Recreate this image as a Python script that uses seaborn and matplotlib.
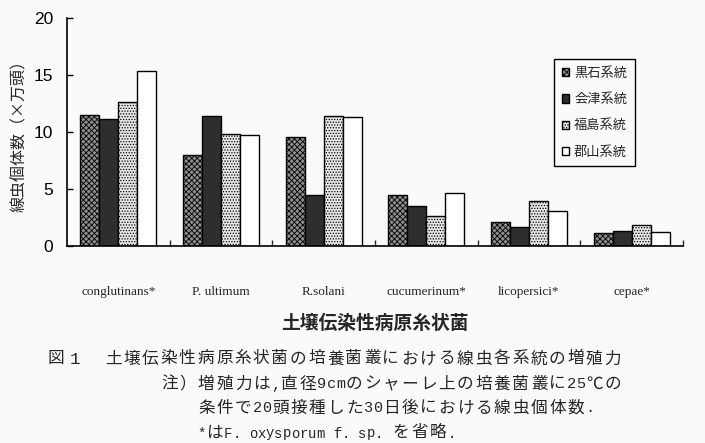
import pandas as pd
import matplotlib
matplotlib.use("Agg")
import matplotlib.pyplot as plt
import seaborn as sns

# ------------------------------------------
# Data
# ------------------------------------------
fungi = ["conglutinans*", "P. ultimum", "R.solani", "cucumerinum*", "licopersici*", "cepae*"]
strains = ["黒石系統", "会津系統", "福島系統", "郡山系統"]

kuroishi = [11.5, 8.0, 9.55, 4.45, 2.1, 1.15]
aizu = [11.1, 11.4, 4.45, 3.55, 1.65, 1.3]
fukushima = [12.6, 9.8, 11.4, 2.6, 3.95, 1.85]
koriyama = [15.35, 9.7, 11.3, 4.65, 3.1, 1.25]

y_ticks = [0, 5, 10, 15, 20]

xlabel = "土壌伝染性病原糸状菌"
ylabel = "線虫個体数（×万頭）"
caption_fig = "図"
caption_no = "1"
caption_1 = "土壌伝染性病原糸状菌の培養菌叢における線虫各系統の増殖力"
caption_2 = "注）増殖力は,直径9cmのシャーレ上の培養菌叢に25℃の"
caption_3 = "条件で20頭接種した30日後における線虫個体数."
caption_4 = "*はF. oxysporum f. sp. を省略."

df = pd.DataFrame({
    "fungus": fungi * 4,
    "strain": [s for s in strains for _ in fungi],
    "count": kuroishi + aizu + fukushima + koriyama,
})

# ------------------------------------------
# Style
# ------------------------------------------
sns.set_style("ticks")
JP = ["Noto Sans CJK JP", "DejaVu Sans"]
plt.rcParams["font.family"] = JP
plt.rcParams["hatch.linewidth"] = 0.6

W, H = 705, 443
BG = "#fafafa"
fig = plt.figure(figsize=(W / 100, H / 100), dpi=100, facecolor=BG)
ax = fig.add_axes([67 / W, 1 - 246 / H, 616 / W, 228 / H], facecolor=BG)

colors = ["#8e8e8e", "#2e2e2e", "#e6e6e6", "#ffffff"]
hatches = ["xxxxxx", "", "......", ""]

sns.barplot(
    data=df, x="fungus", y="count", hue="strain",
    order=fungi, hue_order=strains, palette=colors,
    width=0.74, saturation=1, edgecolor="black", linewidth=1,
    legend=False, ax=ax,
)

for cont, h in zip(ax.containers, hatches):
    for p in cont.patches:
        p.set_hatch(h)

# ------------------------------------------
# Axes
# ------------------------------------------
ax.set_xlim(-0.5, len(fungi) - 0.5)
ax.set_ylim(0, 20)
ax.set_yticks(y_ticks)
ax.set_yticklabels([str(v) for v in y_ticks], family="Liberation Sans", fontsize=12.5)
ax.tick_params(axis="y", direction="in", length=4, width=1, pad=10, colors="black")

ax.set_xticks(range(len(fungi)))
ax.set_xticklabels(fungi, family="Liberation Serif", fontsize=9.5)
ax.tick_params(axis="x", which="major", length=0, pad=29)
ax.set_xticks([i + 0.5 for i in range(len(fungi))], minor=True)
ax.tick_params(axis="x", which="minor", direction="in", length=4.5, width=1)

for side in ["top", "right"]:
    ax.spines[side].set_visible(False)
for side in ["left", "bottom"]:
    ax.spines[side].set_linewidth(1.2)
    ax.spines[side].set_color("black")

ax.set_xlabel(xlabel, fontsize=13.5, fontweight="bold", labelpad=11)
ax.set_ylabel(ylabel, fontsize=11.5, labelpad=4)

leg = ax.legend(
    ax.containers, strains,
    loc="upper left", bbox_to_anchor=(0.79, 0.82),
    fontsize=9.5, frameon=True, fancybox=False, framealpha=1,
    edgecolor="black", handlelength=0.6, handleheight=0.6,
    handletextpad=0.35, labelspacing=1.0, borderpad=0.6, borderaxespad=0,
)
leg.get_frame().set_linewidth(1)
leg.get_frame().set_facecolor(BG)

# ------------------------------------------
# Caption (spaced characters, like the typeset original)
# ------------------------------------------
def spaced_text(x, y, s, pitch=18.5, half=9.25, size=12, asize=11):
    base = 1 - (y + 5.5) / H
    for ch in s:
        if ord(ch) < 0x2000:
            w, fam, fs = half, "Liberation Mono", asize
        else:
            w, fam, fs = pitch, JP, size
        fig.text((x + w / 2) / W, base, ch, ha="center", va="baseline",
                 fontsize=fs, family=fam)
        x += w

spaced_text(47, 358, caption_fig)
spaced_text(70, 358, caption_no, asize=12.5)
spaced_text(104, 358, caption_1)
spaced_text(160, 383, caption_2)
spaced_text(197, 407, caption_3)
spaced_text(197, 432, caption_4, half=8.4, asize=10)

fig.savefig("out.png", dpi=100, facecolor=BG)
